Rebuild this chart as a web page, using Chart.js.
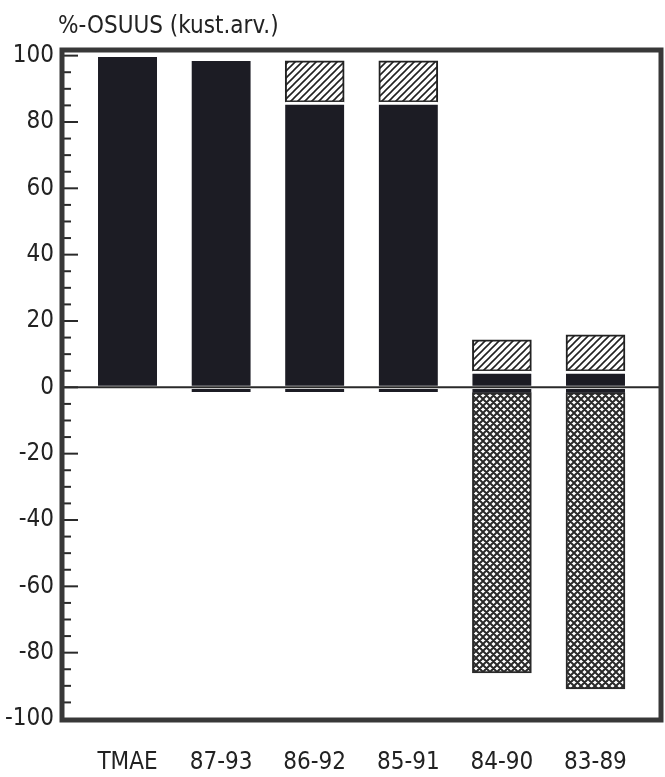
<!DOCTYPE html>
<html>
<head>
<meta charset="utf-8">
<script src="https://cdn.jsdelivr.net/npm/chart.js@4.4.1/dist/chart.umd.min.js"></script>
<style>
html,body{margin:0;padding:0;background:#fff;}
#wrap{width:665px;height:777px;position:relative;}
</style>
</head>
<body>
<div id="wrap"><canvas id="c" width="665" height="777"></canvas></div>
<script>
// ---- data ----
const categories = ['TMAE', '87-93', '86-92', '85-91', '84-90', '83-89'];
const darkPos   = [99.6, 98.4, 86.0, 86.0, 4.9, 4.9];
const hatched   = [null, null, 12.4, 12.4, 9.4, 10.9];
const darkNeg   = [null, -1.4, -1.4, -1.4, -1.6, -1.6];
const crossNeg  = [null, null, null, null, -84.5, -89.3];
const yTickValues = [-100, -80, -60, -40, -20, 0, 20, 40, 60, 80, 100];
const titleText = '%-OSUUS (kust.arv.)';

const FONT = "'DejaVu Sans Condensed', 'Liberation Sans Narrow', 'DejaVu Sans', sans-serif";
const INK = '#222';
const DARK = '#1c1c24';

function makeHatch() {
  const s = 7, c = document.createElement('canvas');
  c.width = s; c.height = s;
  const g = c.getContext('2d');
  g.fillStyle = '#fff'; g.fillRect(0, 0, s, s);
  g.strokeStyle = '#222'; g.lineWidth = 1.6;
  g.beginPath();
  g.moveTo(-1, s + 1); g.lineTo(s + 1, -1);
  g.moveTo(-1, 1); g.lineTo(1, -1);
  g.moveTo(s - 1, s + 1); g.lineTo(s + 1, s - 1);
  g.stroke();
  return g.createPattern(c, 'repeat');
}
function makeCross() {
  const s = 7, c = document.createElement('canvas');
  c.width = s; c.height = s;
  const g = c.getContext('2d');
  g.fillStyle = '#fff'; g.fillRect(0, 0, s, s);
  g.strokeStyle = '#2a2a2a'; g.lineWidth = 2;
  g.beginPath();
  g.moveTo(-1, s + 1); g.lineTo(s + 1, -1);
  g.moveTo(-1, -1); g.lineTo(s + 1, s + 1);
  g.moveTo(-1, 1); g.lineTo(1, -1);
  g.moveTo(s - 1, s + 1); g.lineTo(s + 1, s - 1);
  g.moveTo(s - 1, -1); g.lineTo(s + 1, 1);
  g.moveTo(-1, s - 1); g.lineTo(1, s + 1);
  g.stroke();
  return g.createPattern(c, 'repeat');
}

const toPts = arr => arr.map((v, i) => ({ x: i, y: v }));

const framePlugin = {
  id: 'frame',
  afterDatasetsDraw(chart) {
    const { ctx, chartArea: a, scales } = chart;
    const y = scales.y;
    ctx.save();
    // zero line
    const y0 = y.getPixelForValue(0);
    ctx.strokeStyle = '#2a2a2a'; ctx.lineWidth = 2;
    ctx.beginPath(); ctx.moveTo(a.left, y0); ctx.lineTo(a.right, y0); ctx.stroke();
    // inward ticks
    ctx.strokeStyle = '#2a2a2a'; ctx.lineWidth = 2;
    for (let v = -100; v <= 100; v += 5) {
      const p = y.getPixelForValue(v);
      const len = (v % 20 === 0) ? 16 : 9;
      ctx.beginPath(); ctx.moveTo(a.left, p); ctx.lineTo(a.left + len, p); ctx.stroke();
    }
    // frame
    ctx.strokeStyle = '#383838'; ctx.lineWidth = 5;
    ctx.strokeRect(a.left, a.top, a.right - a.left, a.bottom - a.top);
    // title
    ctx.fillStyle = INK;
    ctx.font = "24px " + FONT;
    ctx.textAlign = 'left'; ctx.textBaseline = 'middle';
    ctx.fillText(titleText, a.left - 4, a.top - 23);
    ctx.restore();
  }
};

new Chart(document.getElementById('c'), {
  type: 'bar',
  data: {
    datasets: [
      { label: 'darkPos', data: toPts(darkPos), backgroundColor: DARK,
        borderColor: '#fff',
        borderWidth: c => ({ top: hatched[c.dataIndex] ? 3 : 0, bottom: 2, left: 0, right: 0 }),
        borderSkipped: false },
      { label: 'hatched', data: toPts(hatched), backgroundColor: makeHatch(),
        borderColor: '#222', borderWidth: 2, borderSkipped: false },
      { label: 'darkNeg', data: toPts(darkNeg), backgroundColor: DARK,
        borderColor: '#fff', borderWidth: { top: 2, bottom: 0, left: 0, right: 0 }, borderSkipped: false },
      { label: 'cross', data: toPts(crossNeg), backgroundColor: makeCross(),
        borderColor: '#2a2a2a', borderWidth: 2, borderSkipped: false }
    ]
  },
  options: {
    responsive: false,
    animation: false,
    events: [],
    barThickness: 59,
    layout: { padding: { left: 0, right: 4, top: 50, bottom: 0 } },
    plugins: { legend: { display: false }, tooltip: { enabled: false }, title: { display: false } },
    scales: {
      x: {
        type: 'linear', stacked: true, min: -0.7, max: 5.7, offset: false,
        grid: { display: false, drawTicks: false, offset: false },
        border: { display: false },
        afterFit(s) { s.height = 57; },
        afterBuildTicks(s) { s.ticks = categories.map((_, i) => ({ value: i })); },
        ticks: {
          padding: 28,
          color: INK,
          font: { family: FONT, size: 24 },
          callback: v => categories[v] ?? ''
        }
      },
      y: {
        type: 'linear', stacked: true, min: -100.3, max: 101.7,
        grid: { display: false, drawTicks: false },
        border: { display: false },
        afterFit(s) { s.width = 62; },
        afterBuildTicks(s) { s.ticks = yTickValues.map(v => ({ value: v })); },
        ticks: {
          padding: 8,
          color: INK,
          font: { family: FONT, size: 24 },
          callback: v => String(v)
        }
      }
    }
  },
  plugins: [framePlugin]
});
</script>
</body>
</html>
